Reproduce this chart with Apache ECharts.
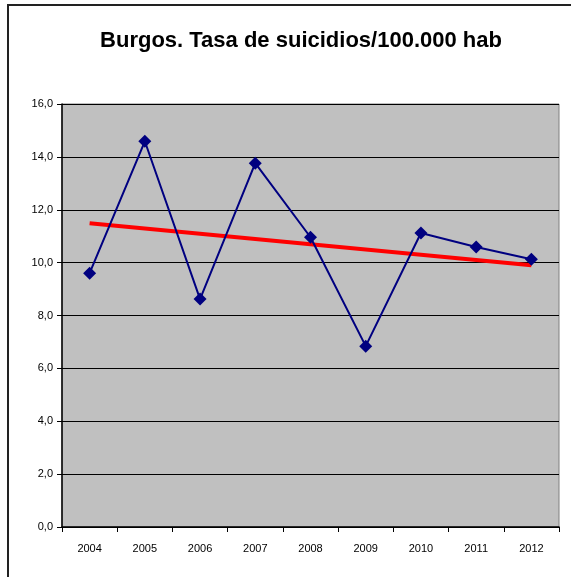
<!DOCTYPE html>
<html>
<head>
<meta charset="utf-8">
<script src="https://cdn.jsdelivr.net/npm/echarts@6/dist/echarts.min.js"></script>
<style>html,body{margin:0;padding:0;background:#fff;overflow:hidden}#c{width:571px;height:577px}</style>
</head>
<body>
<div id="c"></div>
<script>
const years = ['2004','2005','2006','2007','2008','2009','2010','2011','2012'];
const rates = [9.6, 14.59, 8.62, 13.76, 10.96, 6.84, 11.12, 10.59, 10.13];
const trend = [11.49, null, null, null, null, null, null, null, 9.9];
const yTicks = [0, 2, 4, 6, 8, 10, 12, 14, 16];

const chart = echarts.init(document.getElementById('c'), null, {renderer: 'canvas'});
const fmt = v => v.toFixed(1).replace('.', ',');
chart.setOption({
  animation: false,
  backgroundColor: '#ffffff',
  title: {
    text: 'Burgos. Tasa de suicidios/100.000 hab',
    left: 296, top: 25, textAlign: 'center',
    textStyle: {fontFamily: 'Liberation Sans', fontWeight: 'bold', fontSize: 22, color: '#000'}
  },
  graphic: [{
    type: 'polyline', shape: {points: [[8, 600], [8, 5], [600, 5]]},
    style: {fill: 'none', stroke: '#222', lineWidth: 2}, silent: true, z: 100
  }],
  grid: {left: 62, right: 12, top: 104, bottom: 50, backgroundColor: '#c0c0c0', show: true, borderColor: '#808080', borderWidth: 1},
  xAxis: {
    type: 'category', data: years, boundaryGap: true,
    axisLine: {lineStyle: {color: '#000', width: 1.5}},
    axisTick: {show: true, length: 5, lineStyle: {color: '#000'}},
    axisLabel: {fontFamily: 'Liberation Sans', fontSize: 11, color: '#000', margin: 16}
  },
  yAxis: {
    type: 'value', min: yTicks[0], max: yTicks[yTicks.length - 1], interval: 2,
    axisLine: {show: true, lineStyle: {color: '#000', width: 1.5}},
    axisTick: {show: true, length: 5, lineStyle: {color: '#000'}},
    axisLabel: {fontFamily: 'Liberation Sans', fontSize: 11, color: '#000', margin: 9, formatter: fmt},
    splitLine: {lineStyle: {color: '#000', width: 1}}
  },
  series: [{
    type: 'line', data: trend, connectNulls: true, symbol: 'none',
    lineStyle: {color: '#ff0000', width: 4}, z: 2
  }, {
    type: 'line', data: rates, symbol: 'diamond', symbolSize: 13,
    itemStyle: {color: '#000080'}, lineStyle: {color: '#000080', width: 2}, z: 3
  }]
});
</script>
</body>
</html>
